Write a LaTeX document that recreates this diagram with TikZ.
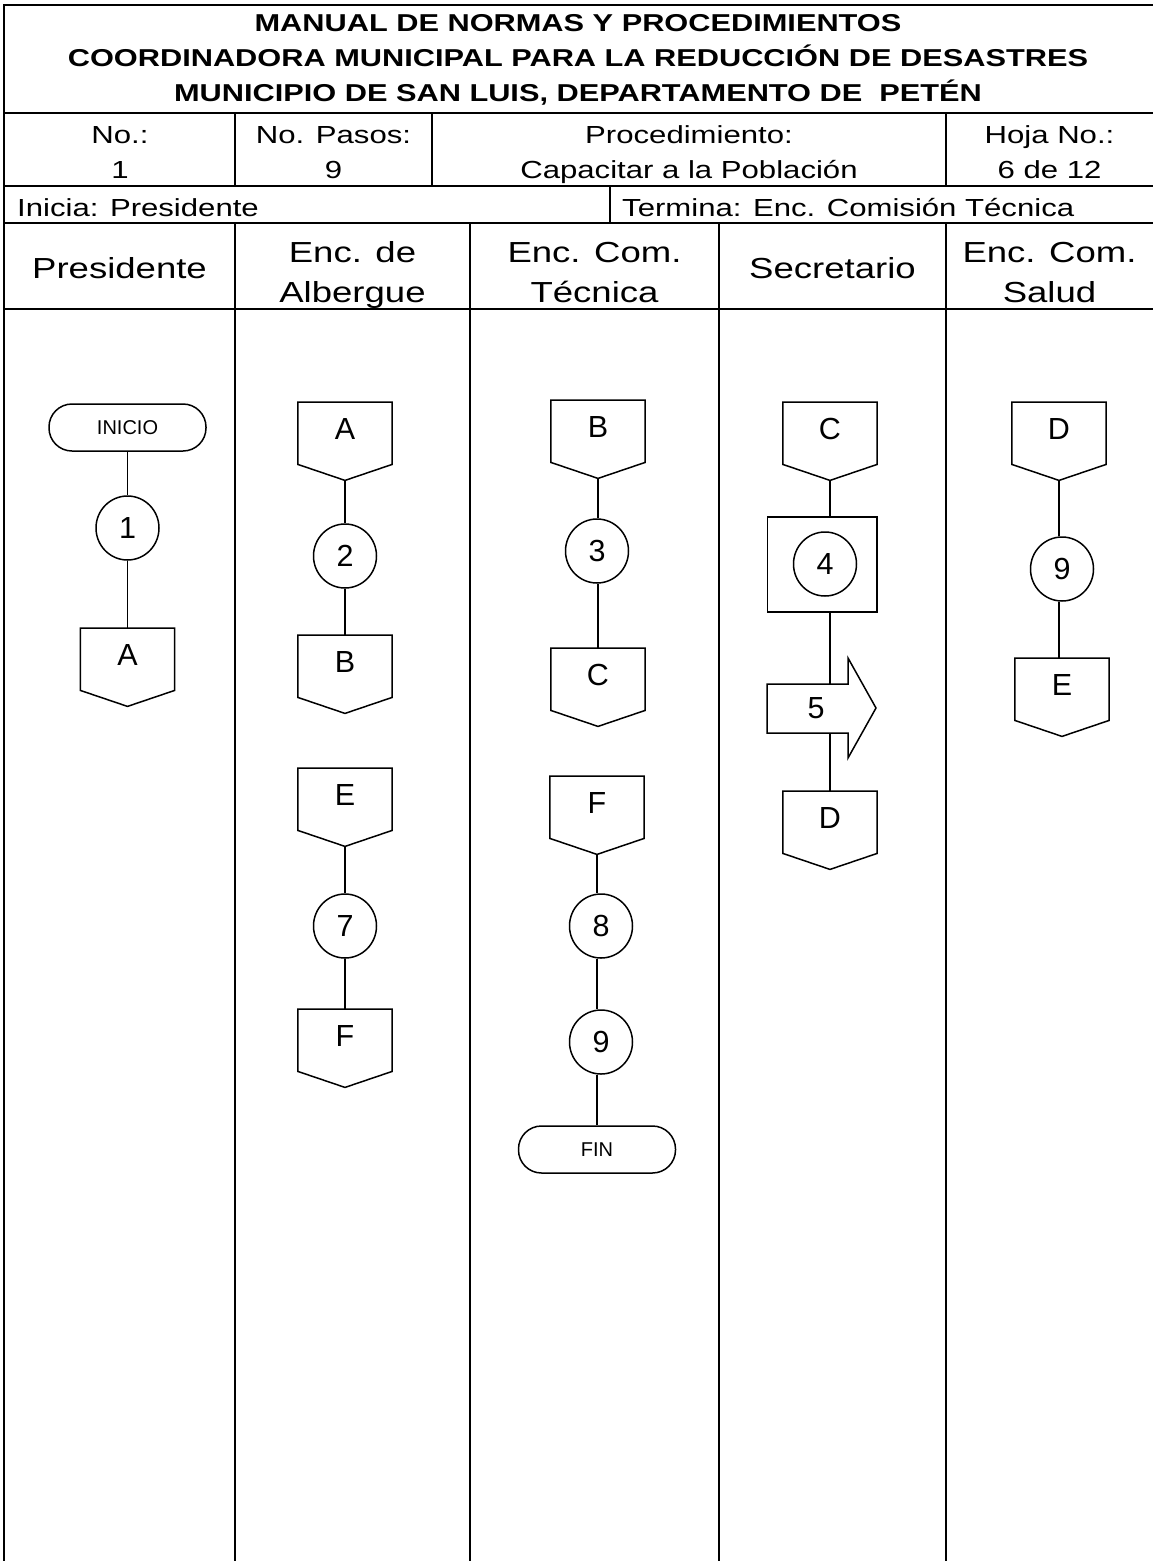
\documentclass[tikz,border=0pt]{standalone}
\usepackage{fontspec}
\setmainfont{Liberation Sans}
\newfontfamily\tabf[FakeStretch=1.26]{Liberation Sans}
\usetikzlibrary{shapes.geometric}
\pgfdeclarelayer{bg}
\pgfsetlayers{bg,main}
\tikzset{
  tbl/.style={line width=2.4pt, line cap=rect},
  shp/.style={line width=1.5pt},
  conn/.style={line width=1.5pt},
  ttl/.style={font=\tabf\bfseries\fontsize{24.4}{29}\selectfont, anchor=base, inner sep=0pt},
  rowt/.style={font=\tabf\fontsize{24.7}{29}\selectfont, anchor=base, inner sep=0pt},
  lanet/.style={font=\tabf\fontsize{29}{34}\selectfont, anchor=base, inner sep=0pt},
  circ/.style={ellipse, draw, shp, minimum width=63pt, minimum height=64pt, inner sep=0pt, font=\fontsize{30.5}{30}\selectfont},
  term/.style={rectangle, rounded corners=23pt, draw, shp, minimum width=157pt, minimum height=47pt, inner sep=0pt, font=\fontsize{20}{20}\selectfont},
  offbox/.style={rectangle, minimum width=94pt, minimum height=62pt, inner sep=0pt, text height=22pt, text depth=9pt, font=\fontsize{30.5}{30}\selectfont},
}
\newcommand\offp[4]{%
  \node[offbox, anchor=north] (#1) at (#2,#3) {#4};
  \draw[shp] (#1.north west) -- (#1.north east) -- (#1.south east) -- ([yshift=-16pt]#1.south) -- (#1.south west) -- cycle;
  \coordinate (#1t) at ([yshift=-16pt]#1.south);
}
\begin{document}
\begin{tikzpicture}[x=1pt, y=-1pt]
\useasboundingbox (0,0) rectangle (1153,1561);
% table frame
\draw[tbl] (4,1561) -- (4,5) -- (1153,5);
\draw[tbl] (4,113) -- (1153,113);
\draw[tbl] (4,186) -- (1153,186);
\draw[tbl] (4,223) -- (1153,223);
\draw[tbl] (4,309) -- (1153,309);
\draw[tbl] (235,113) -- (235,186);
\draw[tbl] (432,113) -- (432,186);
\draw[tbl] (946,113) -- (946,186);
\draw[tbl] (610,186) -- (610,223);
\foreach \xx in {235,470,719,946} \draw[tbl] (\xx,223) -- (\xx,1561);
% title
\node[ttl] (t1) at (578,31) {MANUAL DE NORMAS Y PROCEDIMIENTOS};
\node[ttl] (t2) at (578,66) {COORDINADORA MUNICIPAL PARA LA REDUCCIÓN DE DESASTRES};
\node[ttl] (t3) at (578,101) {MUNICIPIO DE SAN LUIS, DEPARTAMENTO DE\ \ PETÉN};
% row 2
\node[rowt] (n1) at (120,143) {No.:};
\node[rowt] (n2) at (120,178) {1};
\node[rowt] (p1) at (333.5,143) {No. Pasos:};
\node[rowt] (p2) at (333.5,178) {9};
\node[rowt] (pr1) at (689,143) {Procedimiento:};
\node[rowt] (pr2) at (689,178) {Capacitar a la Población};
\node[rowt] (h1) at (1049.5,143) {Hoja No.:};
\node[rowt] (h2) at (1049.5,178) {6 de 12};
% row 3
\node[rowt, anchor=base west] (ini t) at (17,216) {Inicia: Presidente};
\node[rowt, anchor=base west] (ter t) at (622,216) {Termina: Enc. Comisión Técnica};
% lane headers
\node[lanet] (l1) at (119.5,278) {Presidente};
\node[lanet] (l2a) at (352.5,262) {Enc. de};
\node[lanet] (l2b) at (352.5,302) {Albergue};
\node[lanet] (l3a) at (594.5,262) {Enc. Com.};
\node[lanet] (l3b) at (594.5,302) {Técnica};
\node[lanet] (l4) at (832.5,278) {Secretario};
\node[lanet] (l5a) at (1049.5,262) {Enc. Com.};
\node[lanet] (l5b) at (1049.5,302) {Salud};
% lane 1
\node[term] (ini) at (127.5,427.5) {INICIO};
\node[circ] (c1) at (127.5,528) {1};
\offp{a1}{127.5}{628}{A}
% lane 2
\offp{a2}{345}{402}{A}
\node[circ] (c2) at (345,556) {2};
\offp{b2}{345}{635}{B}
\offp{e2}{345}{768}{E}
\node[circ] (c7) at (345,926) {7};
\offp{f2}{345}{1009}{F}
% lane 3
\offp{b3}{598}{400}{B}
\node[circ] (c3) at (597,551) {3};
\offp{c3b}{598}{648}{C}
\offp{f3}{597}{776}{F}
\node[circ] (c8) at (601,926) {8};
\node[circ] (c9a) at (601,1042) {9};
\node[term] (fin) at (597,1149.5) {FIN};
% lane 4
\offp{c4}{830}{402}{C}
\node[draw, shp, rectangle, minimum width=109.5pt, minimum height=95pt, inner sep=0pt] (sq4) at (822,564.5) {};
\node[circ] (c4c) at (825,564) {4};
\offp{d4}{830}{791}{D}
% lane 5
\offp{d5}{1059}{402}{D}
\node[circ] (c9b) at (1062,569) {9};
\offp{e5}{1062}{658}{E}
% connectors
\begin{pgfonlayer}{bg}
\draw[conn] (ini.south) -- (c1.north);
\draw[conn] (c1.south) -- (a1.north);
\draw[conn] (a2t) -- (c2.north);
\draw[conn] (c2.south) -- (b2.north);
\draw[conn] (e2t) -- (c7.north);
\draw[conn] (c7.south) -- (f2.north);
\draw[conn] (b3t) -- (b3t |- c3.north);
\draw[conn] (b3t |- c3.south) -- (c3b.north);
\draw[conn] (f3t) -- (f3t |- c8.north);
\draw[conn] (f3t |- c8.south) -- (f3t |- c9a.north);
\draw[conn] (f3t |- c9a.south) -- (fin.north);
\draw[conn] (c4t) -- (c4t |- sq4.north);
\draw[conn] (d4.north |- sq4.south) -- (d4.north);
\draw[conn] (d5t) -- (d5t |- c9b.north);
\draw[conn] (d5t |- c9b.south) -- (d5t |- e5.north);
\end{pgfonlayer}
% step 5 arrow (drawn over the connector)
\draw[shp, fill=white] (767,684) -- (848,684) -- (848,658) -- (876,708) -- (848,758) -- (848,733) -- (767,733) -- cycle;
\node[font=\fontsize{30.5}{30}\selectfont, inner sep=0pt] (s5) at (816,708) {5};
\end{tikzpicture}
\end{document}
